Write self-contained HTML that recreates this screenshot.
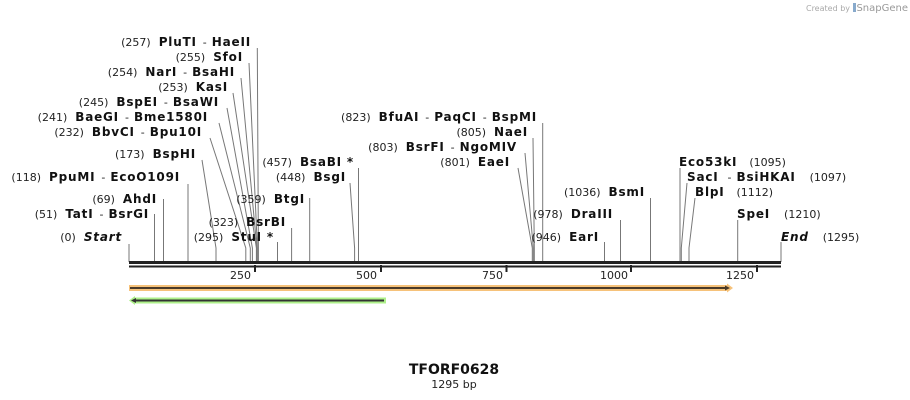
<!DOCTYPE html>
<html><head><meta charset="utf-8"><style>
html,body{margin:0;padding:0;background:#fff;}
svg{display:block;font-family:"DejaVu Sans","Liberation Sans",sans-serif;}
.n{font-size:11px;fill:#222;}
.b{font-size:12px;font-weight:bold;fill:#111;letter-spacing:0.8px;}
.d{font-size:11px;fill:#222;}
.i{font-style:italic;}
line,polyline{stroke:#777;stroke-width:1;fill:none;}
</style></head><body>
<svg width="910" height="400" viewBox="0 0 910 400" xmlns="http://www.w3.org/2000/svg">
<text x="850" y="11" text-anchor="end" style="font-size:8px;fill:#aaa">Created by</text>
<rect x="853" y="3" width="3" height="9" fill="#8ac" />
<text x="908" y="11" text-anchor="end" style="font-size:10px;fill:#999">SnapGene</text>

<polyline points="257.3,48 258.4,248 258.4,262"/>
<polyline points="249,63 257.4,248 257.4,262"/>
<polyline points="241,78 256.9,248 256.9,262"/>
<polyline points="233,93 256.4,248 256.4,262"/>
<polyline points="227,108 252.4,248 252.4,262"/>
<polyline points="219,123 250.3,248 250.3,262"/>
<polyline points="210,138 245.8,248 245.8,262"/>
<polyline points="202,160 216,248 216,262"/>
<line x1="188" y1="184" x2="188" y2="262"/>
<line x1="163.5" y1="199" x2="163.5" y2="262"/>
<line x1="154.5" y1="214" x2="154.5" y2="262"/>
<line x1="129" y1="244" x2="129" y2="262"/>
<line x1="277.5" y1="242" x2="277.5" y2="262"/>
<line x1="291.6" y1="228" x2="291.6" y2="262"/>
<line x1="309.7" y1="198" x2="309.7" y2="262"/>
<polyline points="350,183 354.6,248 354.6,262"/>
<line x1="358.5" y1="168" x2="358.5" y2="262"/>
<line x1="542.7" y1="123" x2="542.7" y2="262"/>
<polyline points="533,138 534.3,248 534.3,262"/>
<polyline points="525,153 533.3,248 533.3,262"/>
<polyline points="518,168 532.3,248 532.3,262"/>
<line x1="604.5" y1="242" x2="604.5" y2="262"/>
<line x1="620.5" y1="220" x2="620.5" y2="262"/>
<line x1="650.5" y1="198" x2="650.5" y2="262"/>
<line x1="680" y1="168" x2="680" y2="262"/>
<polyline points="687,183 681.3,248 681.3,262"/>
<polyline points="695,198 689,248 689,262"/>
<line x1="737.7" y1="220" x2="737.7" y2="262"/>
<line x1="781" y1="242" x2="781" y2="262"/>

<text x="251" y="46" text-anchor="end"><tspan class="n">(257)</tspan><tspan class="b" dx="8">PluTI</tspan><tspan class="d" dx="6">-</tspan><tspan class="b" dx="5">HaeII</tspan></text>
<text x="243" y="61" text-anchor="end"><tspan class="n">(255)</tspan><tspan class="b" dx="8">SfoI</tspan></text>
<text x="235" y="76" text-anchor="end"><tspan class="n">(254)</tspan><tspan class="b" dx="8">NarI</tspan><tspan class="d" dx="6">-</tspan><tspan class="b" dx="5">BsaHI</tspan></text>
<text x="228" y="91" text-anchor="end"><tspan class="n">(253)</tspan><tspan class="b" dx="8">KasI</tspan></text>
<text x="219" y="106" text-anchor="end"><tspan class="n">(245)</tspan><tspan class="b" dx="8">BspEI</tspan><tspan class="d" dx="6">-</tspan><tspan class="b" dx="5">BsaWI</tspan></text>
<text x="208" y="121" text-anchor="end"><tspan class="n">(241)</tspan><tspan class="b" dx="8">BaeGI</tspan><tspan class="d" dx="6">-</tspan><tspan class="b" dx="5">Bme1580I</tspan></text>
<text x="202" y="136" text-anchor="end"><tspan class="n">(232)</tspan><tspan class="b" dx="8">BbvCI</tspan><tspan class="d" dx="6">-</tspan><tspan class="b" dx="5">Bpu10I</tspan></text>
<text x="196" y="158" text-anchor="end"><tspan class="n">(173)</tspan><tspan class="b" dx="8">BspHI</tspan></text>
<text x="180" y="181" text-anchor="end"><tspan class="n">(118)</tspan><tspan class="b" dx="8">PpuMI</tspan><tspan class="d" dx="6">-</tspan><tspan class="b" dx="5">EcoO109I</tspan></text>
<text x="157" y="203" text-anchor="end"><tspan class="n">(69)</tspan><tspan class="b" dx="8">AhdI</tspan></text>
<text x="149" y="218" text-anchor="end"><tspan class="n">(51)</tspan><tspan class="b" dx="8">TatI</tspan><tspan class="d" dx="6">-</tspan><tspan class="b" dx="5">BsrGI</tspan></text>
<text x="122" y="241" text-anchor="end"><tspan class="n">(0)</tspan><tspan class="b i" dx="8">Start</tspan></text>
<text x="274" y="241" text-anchor="end"><tspan class="n">(295)</tspan><tspan class="b" dx="8">StuI *</tspan></text>
<text x="286" y="226" text-anchor="end"><tspan class="n">(323)</tspan><tspan class="b" dx="8">BsrBI</tspan></text>
<text x="305" y="203" text-anchor="end"><tspan class="n">(359)</tspan><tspan class="b" dx="8">BtgI</tspan></text>
<text x="346" y="181" text-anchor="end"><tspan class="n">(448)</tspan><tspan class="b" dx="8">BsgI</tspan></text>
<text x="354" y="166" text-anchor="end"><tspan class="n">(457)</tspan><tspan class="b" dx="8">BsaBI *</tspan></text>
<text x="537" y="121" text-anchor="end"><tspan class="n">(823)</tspan><tspan class="b" dx="8">BfuAI</tspan><tspan class="d" dx="6">-</tspan><tspan class="b" dx="5">PaqCI</tspan><tspan class="d" dx="6">-</tspan><tspan class="b" dx="5">BspMI</tspan></text>
<text x="528" y="136" text-anchor="end"><tspan class="n">(805)</tspan><tspan class="b" dx="8">NaeI</tspan></text>
<text x="517" y="151" text-anchor="end"><tspan class="n">(803)</tspan><tspan class="b" dx="8">BsrFI</tspan><tspan class="d" dx="6">-</tspan><tspan class="b" dx="5">NgoMIV</tspan></text>
<text x="510" y="166" text-anchor="end"><tspan class="n">(801)</tspan><tspan class="b" dx="8">EaeI</tspan></text>
<text x="599" y="241" text-anchor="end"><tspan class="n">(946)</tspan><tspan class="b" dx="8">EarI</tspan></text>
<text x="613" y="218" text-anchor="end"><tspan class="n">(978)</tspan><tspan class="b" dx="8">DraIII</tspan></text>
<text x="645" y="196" text-anchor="end"><tspan class="n">(1036)</tspan><tspan class="b" dx="8">BsmI</tspan></text>

<text x="679" y="166"><tspan class="b">Eco53kI</tspan><tspan class="n" dx="12">(1095)</tspan></text>
<text x="687" y="181"><tspan class="b">SacI</tspan><tspan class="d" dx="9">-</tspan><tspan class="b" dx="5">BsiHKAI</tspan><tspan class="n" dx="14">(1097)</tspan></text>
<text x="695" y="196"><tspan class="b">BlpI</tspan><tspan class="n" dx="12">(1112)</tspan></text>
<text x="737" y="218"><tspan class="b">SpeI</tspan><tspan class="n" dx="14">(1210)</tspan></text>
<text x="781" y="241"><tspan class="b i">End</tspan><tspan class="n" dx="14">(1295)</tspan></text>

<rect x="129" y="261" width="652" height="3" fill="#222"/>
<rect x="129" y="265.5" width="652" height="2" fill="#222"/>
<g fill="#222">
<rect x="254" y="265" width="2" height="7"/>
<rect x="380" y="265" width="2" height="7"/>
<rect x="505.5" y="265" width="2" height="7"/>
<rect x="630" y="265" width="2" height="7"/>
<rect x="756" y="265" width="2" height="7"/>
</g>
<g text-anchor="end" style="font-size:11px;fill:#222">
<text x="251" y="279">250</text>
<text x="377" y="279">500</text>
<text x="503" y="279">750</text>
<text x="628" y="279">1000</text>
<text x="754" y="279">1250</text>
</g>

<rect x="129" y="285" width="598" height="6" fill="#f6c27a"/>
<polygon points="727,283.5 733,288 727,292.5" fill="#f6c27a"/>
<line x1="130" y1="288" x2="727" y2="288" style="stroke:#4a3a28;stroke-width:2"/>
<polygon points="725,285.5 730,288 725,290.5" fill="#4a3a28"/>
<rect x="135" y="297.5" width="251" height="6" fill="#aef08a"/>
<polygon points="135,296 129,300.5 135,305" fill="#aef08a"/>
<line x1="135" y1="300.5" x2="384" y2="300.5" style="stroke:#333;stroke-width:2"/>
<polygon points="136,298 131,300.5 136,303" fill="#333"/>

<text x="454" y="374" text-anchor="middle" style="font-size:14px;font-weight:bold;fill:#111">TFORF0628</text>
<text x="454" y="388" text-anchor="middle" style="font-size:11px;fill:#222">1295 bp</text>
</svg>
</body></html>
